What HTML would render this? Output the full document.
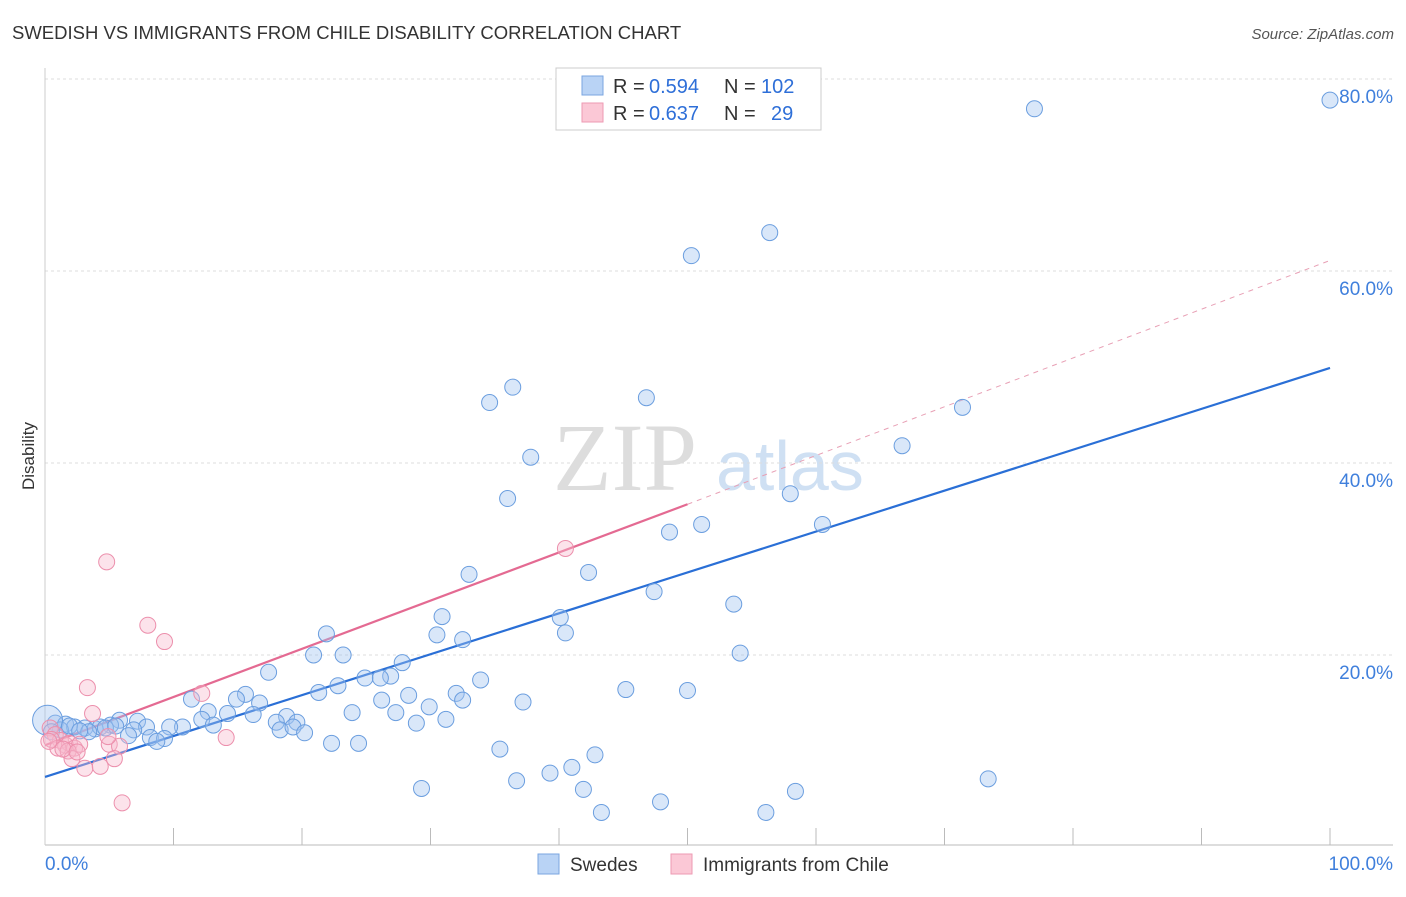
<!DOCTYPE html>
<html><head><meta charset="utf-8"><style>
body{margin:0;background:#fff;font-family:"Liberation Sans",sans-serif}
</style></head><body>
<svg width="1406" height="892" xmlns="http://www.w3.org/2000/svg" id="svg" font-family="Liberation Sans, sans-serif">
<text x="12" y="39" font-size="18.5" fill="#333">SWEDISH VS IMMIGRANTS FROM CHILE DISABILITY CORRELATION CHART</text>
<text x="1394" y="39" font-size="15" fill="#555" text-anchor="end" font-style="italic">Source: ZipAtlas.com</text>
<text x="34" y="456" font-size="17" fill="#333" text-anchor="middle" transform="rotate(-90 34 456)">Disability</text>
<text x="553" y="490" font-size="96" fill="#ddd" font-family="Liberation Serif, serif">ZIP</text>
<text x="716" y="490" font-size="70" fill="#cfe0f3">atlas</text>
<g id="grid"></g><g id="axes"></g><g id="trend"></g><g id="pts"></g>
<g>
<rect x="556" y="68" width="265" height="62" fill="#fff" stroke="#ccc"/>
<rect x="582" y="76" width="21" height="19" fill="#b9d3f5" stroke="#7aa6e0"/>
<rect x="582" y="103" width="21" height="19" fill="#fbc8d6" stroke="#ee9ab3"/>
<text x="613" y="93" font-size="20" fill="#333">R =</text>
<text x="649" y="93" font-size="20" fill="#2e6fd8">0.594</text>
<text x="724" y="93" font-size="20" fill="#333">N =</text>
<text x="761" y="93" font-size="20" fill="#2e6fd8">102</text>
<text x="613" y="120" font-size="20" fill="#333">R =</text>
<text x="649" y="120" font-size="20" fill="#2e6fd8">0.637</text>
<text x="724" y="120" font-size="20" fill="#333">N =</text>
<text x="771" y="120" font-size="20" fill="#2e6fd8">29</text>
</g>
<g>
<rect x="538" y="854" width="21" height="20" fill="#b9d3f5" stroke="#7aa6e0"/>
<text x="570" y="871" font-size="19" fill="#333">Swedes</text>
<rect x="671" y="854" width="21" height="20" fill="#fbc8d6" stroke="#ee9ab3"/>
<text x="703" y="871" font-size="19" fill="#333">Immigrants from Chile</text>
</g>
</svg>
<script>
const yTicks=[20,40,60,80];
const yTickLabels=["20.0%","40.0%","60.0%","80.0%"];
const xTicks=[0,10,20,30,40,50,60,70,80,90,100];
const blueX=[100,77,56.4,50.3,36.4,34.6,46.8,71.4,66.7,37.8,36,58,51.1,48.6,60.5,42.3,33,47.4,53.6,30.9,40.1,30.5,40.5,32.5,21.9,54.1,20.9,23.2,17.4,27.8,26.9,24.9,26.1,33.9,22.8,21.3,45.2,50,32,28.3,11.4,15.6,14.9,26.2,32.5,37.2,16.7,29.9,12.7,23.9,27.3,14.2,16.2,18.8,31.2,12.2,5.8,7.2,13.1,18,19.6,28.9,5.1,10.7,9.7,7.9,0.8,1.6,2.3,3.1,3.9,4.3,6.9,3.4,1.2,18.3,19.3,20.2,6.5,8.2,9.3,8.7,22.3,24.4,35.4,42.8,41,39.3,36.7,73.4,41.9,29.3,58.4,47.9,43.3,56.1,0.2,1.9,2.7,4.7,5.5,0.5];
const blueY=[77.8,76.9,64,61.6,47.9,46.3,46.8,45.8,41.8,40.6,36.3,36.8,33.6,32.8,33.6,28.6,28.4,26.6,25.3,24,23.9,22.1,22.3,21.6,22.2,20.2,20,20,18.2,19.2,17.8,17.6,17.6,17.4,16.8,16.1,16.4,16.3,16,15.8,15.4,15.9,15.4,15.3,15.3,15.1,15,14.6,14.1,14,14,13.9,13.8,13.6,13.3,13.3,13.2,13.1,12.7,13,13,12.9,12.7,12.5,12.5,12.5,12.9,12.8,12.5,12.4,12.3,12.5,12.2,12,12.2,12.2,12.5,11.9,11.6,11.4,11.3,11,10.8,10.8,10.2,9.6,8.3,7.7,6.9,7.1,6,6.1,5.8,4.7,3.6,3.6,13.2,12.6,12.1,12.4,12.6,12];
const pinkX=[4.8,40.5,8,9.3,3.3,12.2,3.7,14.1,0.4,0.8,1.2,1.6,1.9,2.3,2.7,5,5.8,0.5,1,1.8,2.1,3.1,4.3,5.4,6,0.3,1.4,2.5,4.9];
const pinkY=[29.7,31.1,23.1,21.4,16.6,16,13.9,11.4,12.4,11.7,11.1,10.6,10.8,10.3,10.7,10.7,10.5,11.2,10.3,10,9.2,8.2,8.4,9.2,4.6,11,10.2,9.9,11.5];
const blueTrend=[7.3,49.9];
const pinkTrend=[10.6,35.7,61.1];
const X=v=>45+v*12.85, Y=v=>847-v*9.6;
const NS="http://www.w3.org/2000/svg";
function mk(p,t,a){const e=document.createElementNS(NS,t);for(const k in a)e.setAttribute(k,a[k]);document.getElementById(p).appendChild(e);return e;}
yTicks.forEach((t,i)=>{
 const l=mk('grid','line',{x1:45,x2:1393,y1:Y(t),y2:Y(t),stroke:'#ddd','stroke-dasharray':'3,3'});
 
 
 const tx=mk('grid','text',{x:1393,y:Y(t)+24,'font-size':19,fill:'#3f7fdc','text-anchor':'end'});
 tx.textContent=yTickLabels[i];
 
 
});
const tl=mk('grid','line',{x1:45,x2:1393,y1:79,y2:79,stroke:'#ddd','stroke-dasharray':'3,3'});


const ax=mk('axes','line',{x1:45,x2:1393,y1:845,y2:845,stroke:'#bbb'});


const ay=mk('axes','line',{x1:45,x2:45,y1:68,y2:845,stroke:'#ccc'});


xTicks.slice(1).forEach(t=>{const e=mk('axes','line',{x1:X(t),x2:X(t),y1:828,y2:845,stroke:'#bbb'});
 
 });
[[0,'0.0%',45,'start'],[100,'100.0%',1393,'end']].forEach(d=>{const e=mk('axes','text',{x:d[2],y:870,'font-size':19,fill:'#3f7fdc','text-anchor':d[3]});e.textContent=d[1];
 
 });
let e=mk('trend','line',{x1:X(0),y1:Y(blueTrend[0]),x2:X(100),y2:Y(blueTrend[1]),stroke:'#2a6fd6','stroke-width':2.2});


e=mk('trend','line',{x1:X(50),y1:Y(pinkTrend[1]),x2:X(100),y2:Y(pinkTrend[2]),stroke:'#e8a0b5','stroke-width':1,'stroke-dasharray':'5,5'});


e=mk('trend','line',{x1:X(0),y1:Y(pinkTrend[0]),x2:X(50),y2:Y(pinkTrend[1]),stroke:'#e46a92','stroke-width':2.2});


blueX.forEach((x,i)=>{const c=mk('pts','circle',{cx:X(x),cy:Y(blueY[i]),r:i==96?15:8,fill:'rgba(160,196,240,0.4)',stroke:'#6b9edf','stroke-width':1});
 
 });
pinkX.forEach((x,i)=>{const c=mk('pts','circle',{cx:X(x),cy:Y(pinkY[i]),r:8,fill:'rgba(248,185,205,0.4)',stroke:'#ec8fac','stroke-width':1});
 
 });
</script>
</body></html>
